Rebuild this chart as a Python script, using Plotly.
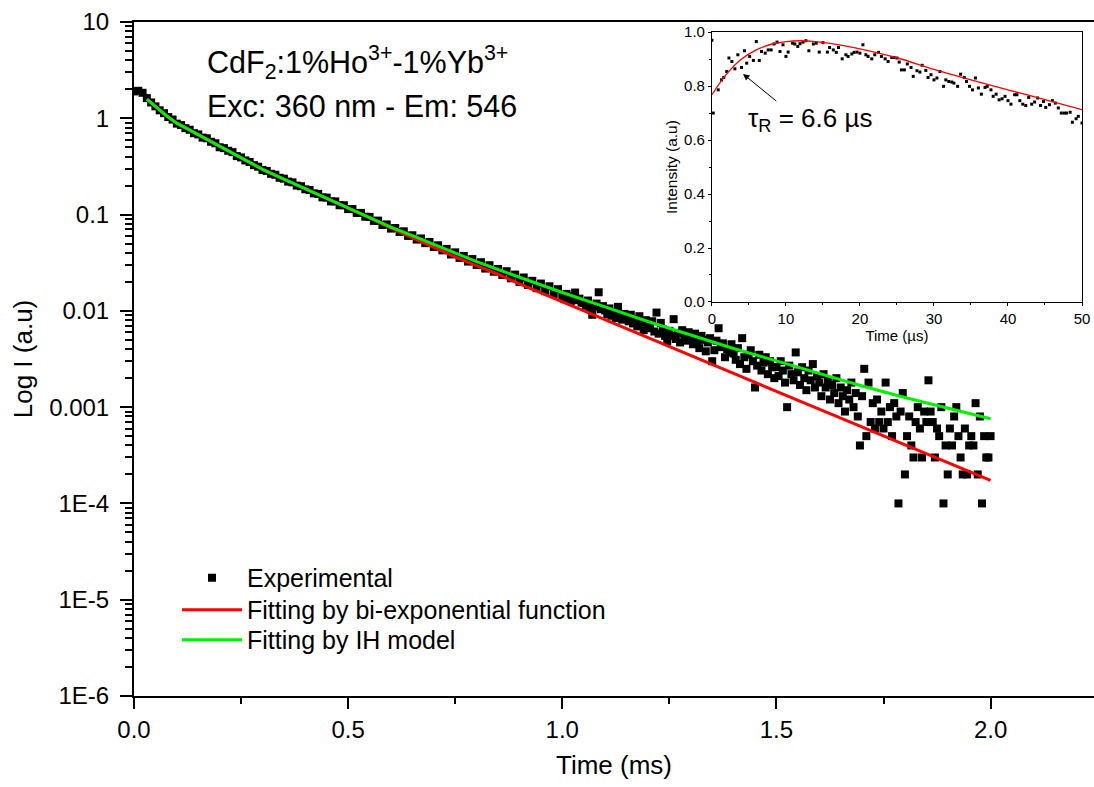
import numpy as np
import plotly.graph_objects as go

# ---------------- main decay data ----------------
time_early = np.round(np.arange(0.0, 1.0, 0.01), 3)
exp_early = [
    1.90, 1.93, 1.84, 1.62, 1.46, 1.33, 1.21, 1.13, 1.03, 0.97,
    0.88, 0.85, 0.79, 0.76, 0.70, 0.68, 0.63, 0.62, 0.57, 0.55,
    0.50, 0.49, 0.46, 0.445, 0.405, 0.392, 0.365, 0.352, 0.326, 0.314,
    0.290, 0.284, 0.265, 0.259, 0.241, 0.236, 0.220, 0.216, 0.200, 0.197,
    0.183, 0.180, 0.166, 0.164, 0.151, 0.150, 0.137, 0.137, 0.125, 0.125,
    0.114, 0.114, 0.104, 0.104, 0.0950, 0.0945, 0.0860, 0.0865, 0.0780, 0.0790,
    0.0715, 0.0725, 0.0660, 0.0670, 0.0600, 0.0610, 0.0550, 0.0565, 0.0505, 0.0520,
    0.0460, 0.0480, 0.0425, 0.0440, 0.0385, 0.0405, 0.0355, 0.0372, 0.0325, 0.0345,
    0.0300, 0.0320, 0.0275, 0.0298, 0.0255, 0.0272, 0.0236, 0.0258, 0.0218, 0.0238,
    0.0200, 0.0222, 0.0186, 0.0205, 0.0172, 0.0192, 0.0160, 0.0180, 0.0150, 0.0168,
]

time_tail = np.round(np.arange(1.0, 2.0001, 0.005), 3)
exp_tail = [
    0.0145, 0.0132, 0.0150, 0.0138, 0.0127, 0.0141, 0.0155, 0.0129, 0.0134, 0.0122,
    0.0121, 0.0113, 0.0128, 0.0107, 0.0091, 0.0110, 0.0119, 0.0156, 0.0104, 0.0112,
    0.0101, 0.0092, 0.0106, 0.0089, 0.0097, 0.0084, 0.0110, 0.0090, 0.0081, 0.0093,
    0.0086, 0.0078, 0.0091, 0.0074, 0.0082, 0.0069, 0.0088, 0.0076, 0.0063, 0.0080,
    0.0072, 0.0066, 0.0078, 0.0061, 0.0096, 0.0058, 0.0075, 0.0064, 0.0055, 0.0048,
    0.0062, 0.0055, 0.0082, 0.0051, 0.0059, 0.0047, 0.0063, 0.0056, 0.0049, 0.0060,
    0.0053, 0.0045, 0.0058, 0.0048, 0.0041, 0.0055, 0.0050, 0.0038, 0.0047, 0.0052,
    0.0030, 0.0039, 0.0049, 0.0066, 0.0042, 0.0046, 0.0033, 0.0040, 0.0037, 0.0045,
    0.0036, 0.0031, 0.0041, 0.0028, 0.0052, 0.0033, 0.0025, 0.0035, 0.0039, 0.0030,
    0.0016, 0.0027, 0.0035, 0.0024, 0.0029, 0.0033, 0.0022, 0.0030, 0.0026, 0.0020,
    0.0026, 0.0021, 0.0030, 0.0024, 0.0018, 0.0010, 0.0027, 0.0022, 0.0019, 0.0037,
    0.0023, 0.0017, 0.0026, 0.0020, 0.0015, 0.0024, 0.0019, 0.0028, 0.0016, 0.0021,
    0.0018, 0.0013, 0.0022, 0.0016, 0.0019, 0.0012, 0.0017, 0.0014, 0.0020, 0.0011,
    0.0016, 0.0013, 0.0009, 0.0015, 0.0012, 0.0018, 0.0010, 0.0014, 0.0008, 0.0004,
    0.0013, 0.0025, 0.0005, 0.0018, 0.0007, 0.0011, 0.0006, 0.0012, 0.0007, 0.0009,
    0.0006, 0.0018, 0.0007, 0.0010, 0.0005, 0.0011, 0.0008, 0.0001, 0.0009, 0.0014,
    0.0002, 0.0005, 0.0008, 0.0004, 0.0003, 0.0007, 0.0010, 0.0006, 0.0003, 0.0009,
    0.0007, 0.0019, 0.0009, 0.0007, 0.0003, 0.0006, 0.0005, 0.0010, 0.0001, 0.0004,
    0.0002, 0.0006, 0.0004, 0.0008, 0.0010, 0.0005, 0.0003, 0.0002, 0.0006, 0.0002,
    0.0004, 0.0005, 0.0004, 0.0011, 0.0002, 0.0008, 0.0001, 0.0005, 0.0003, 0.0003,
    0.0005,
]

# fit curves
fit_time = [0.03, 0.05, 0.075, 0.10, 0.125, 0.15, 0.2, 0.25, 0.3, 0.35, 0.4, 0.45,
            0.5, 0.55, 0.6, 0.65, 0.7, 0.75, 0.8, 0.85, 0.9, 0.95, 1.0, 1.1, 1.2,
            1.3, 1.4, 1.5, 1.6, 1.7, 1.8, 1.9, 2.0]
fit_biexp = [1.58, 1.32, 1.07, 0.891, 0.776, 0.676, 0.513, 0.389, 0.295, 0.234, 0.186,
             0.148, 0.117, 0.0924, 0.0724, 0.0575, 0.0457, 0.0363, 0.0295, 0.0240,
             0.0191, 0.0154, 0.0123, 0.00804, 0.00525, 0.00343, 0.00224, 0.00146,
             0.000955, 0.000624, 0.000407, 0.000266, 0.000174]
fit_ih = [1.58, 1.32, 1.07, 0.891, 0.776, 0.676, 0.513, 0.389, 0.295, 0.234, 0.186,
          0.148, 0.117, 0.0933, 0.0741, 0.0603, 0.0490, 0.0398, 0.0324, 0.0269,
          0.0224, 0.0186, 0.0155, 0.0110, 0.00776, 0.00562, 0.00407, 0.00302,
          0.00224, 0.00166, 0.00126, 0.000977, 0.000759]

y_tickvals = [10, 1, 0.1, 0.01, 0.001, 1e-4, 1e-5, 1e-6]
y_ticktext = ["10", "1", "0.1", "0.01", "0.001", "1E-4", "1E-5", "1E-6"]
x_tickvals = [0.0, 0.5, 1.0, 1.5, 2.0]
x_ticktext = ["0.0", "0.5", "1.0", "1.5", "2.0"]

# ---------------- inset data (rise) ----------------
inset_t = [0.0, 0.18, 0.85, 1.3, 1.6, 2.0, 2.3, 2.7, 3.1, 3.5, 4.0, 4.4, 4.7, 5.1, 5.6,
           6.0, 6.4, 6.7, 7.2, 7.6, 8.0, 8.4, 8.8, 9.2, 9.6, 10.0, 10.3, 10.9, 11.2,
           11.6, 11.9, 12.3, 12.7, 13.1, 13.7, 14.1, 14.5, 15.0, 15.6, 15.9, 16.4,
           16.8, 17.1, 17.6, 18.1, 18.4, 18.9, 19.2, 19.6, 20.0, 20.4, 20.8, 21.1,
           21.6, 22.0, 22.5, 22.9, 23.4, 23.8, 24.3, 24.6, 25.0, 25.3, 25.6, 26.0,
           26.4, 26.9, 27.2, 27.7, 28.1, 28.4, 28.9, 29.2, 29.6, 30.0, 30.4, 30.8,
           31.3, 31.6, 32.0, 32.4, 32.7, 33.2, 33.6, 34.1, 34.4, 34.8, 35.2, 35.6,
           36.0, 36.4, 36.9, 37.2, 37.7, 38.0, 38.4, 38.8, 39.2, 39.6, 40.0, 40.4,
           40.9, 41.2, 41.6, 42.0, 42.4, 42.8, 43.2, 43.6, 44.0, 44.4, 44.8, 45.1,
           45.6, 46.0, 46.4, 46.8, 47.2, 47.6, 47.9, 48.4, 48.7, 49.2, 49.5, 50.0]
inset_i = [0.97, 0.70, 0.786, 0.823, 0.832, 0.854, 0.904, 0.891, 0.864, 0.916, 0.869,
           0.931, 0.885, 0.910, 0.895, 0.965, 0.895, 0.928, 0.922, 0.934, 0.934,
           0.956, 0.963, 0.928, 0.953, 0.910, 0.926, 0.959, 0.956, 0.947, 0.957,
           0.963, 0.968, 0.931, 0.956, 0.959, 0.926, 0.961, 0.926, 0.943, 0.934,
           0.925, 0.943, 0.901, 0.916, 0.910, 0.919, 0.925, 0.926, 0.922, 0.953,
           0.916, 0.910, 0.901, 0.916, 0.925, 0.910, 0.901, 0.891, 0.906, 0.906,
           0.904, 0.889, 0.860, 0.860, 0.882, 0.869, 0.836, 0.857, 0.852, 0.877,
           0.858, 0.832, 0.842, 0.823, 0.830, 0.854, 0.799, 0.823, 0.817, 0.815,
           0.811, 0.799, 0.844, 0.832, 0.817, 0.799, 0.786, 0.830, 0.793, 0.770,
           0.795, 0.799, 0.786, 0.762, 0.770, 0.749, 0.753, 0.762, 0.746, 0.733,
           0.768, 0.768, 0.746, 0.733, 0.728, 0.758, 0.733, 0.741, 0.756, 0.728,
           0.743, 0.721, 0.731, 0.746, 0.737, 0.719, 0.700, 0.700, 0.700, 0.703,
           0.666, 0.679, 0.688, 0.663]
inset_fit_t = [0, 2, 4, 6, 8, 10, 12, 14, 16, 18, 20, 25, 30, 35, 40, 45, 50]
inset_fit_i = [0.768, 0.845, 0.900, 0.934, 0.955, 0.965, 0.968, 0.965, 0.958, 0.949,
               0.938, 0.905, 0.862, 0.823, 0.786, 0.750, 0.713]

FONT = "Liberation Sans, Arial, Helvetica, sans-serif"

fig = go.Figure()

fig.add_trace(go.Scatter(
    x=np.concatenate([time_early, time_tail]), y=exp_early + exp_tail,
    mode="markers", name="Experimental", legend="legend",
    marker=dict(symbol="square", size=8, color="black", line=dict(width=0)),
))
fig.add_trace(go.Scatter(
    x=fit_time, y=fit_biexp, mode="lines", name="Fitting by bi-exponential function",
    legend="legend2",
    line=dict(color="#ff0000", width=3),
))
fig.add_trace(go.Scatter(
    x=fit_time, y=fit_ih, mode="lines", name="Fitting by IH model",
    legend="legend3",
    line=dict(color="#00f000", width=3),
))

# inset traces
fig.add_trace(go.Scatter(
    x=inset_t, y=inset_i, mode="markers", showlegend=False,
    marker=dict(symbol="square", size=3, color="black", line=dict(width=0)),
    xaxis="x2", yaxis="y2",
))
fig.add_trace(go.Scatter(
    x=inset_fit_t, y=inset_fit_i, mode="lines", showlegend=False, line_shape="spline",
    line=dict(color="#ff0000", width=1.3),
    xaxis="x2", yaxis="y2",
))

minor_y = [m * 10.0 ** k for k in range(-6, 1) for m in range(2, 10)]

leg_common = dict(
    xanchor="left", yanchor="middle",
    bgcolor="rgba(0,0,0,0)", borderwidth=0,
    font=dict(size=25, family=FONT), itemwidth=60,
)

fig.update_layout(
    width=1094, height=787,
    margin=dict(l=134, r=0, t=22, b=91, autoexpand=False),
    paper_bgcolor="white", plot_bgcolor="white",
    font=dict(family=FONT, color="black", size=24),
    showlegend=True,
    legend=dict(x=0.0448, y=0.1751, **leg_common),
    legend2=dict(x=0.0448, y=0.1276, **leg_common),
    legend3=dict(x=0.0448, y=0.0831, **leg_common),
    xaxis=dict(
        domain=[0, 1], range=[0, 2.2415], automargin=False,
        tickmode="array", tickvals=x_tickvals, ticktext=x_ticktext,
        ticks="outside", ticklen=11, tickwidth=2, tickcolor="black",
        minor=dict(ticks="outside", dtick=0.25, tick0=0, ticklen=6, tickwidth=2, tickcolor="black"),
        showline=True, linewidth=2, linecolor="black", mirror=True,
        showgrid=False, zeroline=False,
        tickfont=dict(size=24, family=FONT),
        title=dict(text="Time (ms)", font=dict(size=26, family=FONT), standoff=14),
    ),
    yaxis=dict(
        type="log", range=[-6, 1], domain=[0, 1], automargin=False,
        tickmode="array", tickvals=y_tickvals, ticktext=y_ticktext,
        ticks="outside", ticklen=12, tickwidth=2, tickcolor="black",
        minor=dict(ticks="outside", tickmode="array", tickvals=minor_y,
                   ticklen=7, tickwidth=2, tickcolor="black"),
        showline=True, linewidth=2, linecolor="black", mirror=False,
        showgrid=False, zeroline=False,
        tickfont=dict(size=24, family=FONT),
        ticklabelstandoff=6,
        title=dict(text="Log I (a.u)", font=dict(size=26, family=FONT), standoff=9),
    ),
    xaxis2=dict(
        domain=[0.602, 0.9875], anchor="y2", range=[0, 50], automargin=False,
        tickmode="linear", tick0=0, dtick=10,
        ticks="outside", ticklen=3, tickwidth=1, tickcolor="black",
        minor=dict(ticks="outside", dtick=5, ticklen=2, tickwidth=1, tickcolor="black"),
        showline=True, linewidth=1, linecolor="black", mirror=True,
        showgrid=False, zeroline=False,
        tickfont=dict(size=15, family=FONT),
        title=dict(text="Time (µs)", font=dict(size=15, family=FONT), standoff=0),
    ),
    yaxis2=dict(
        domain=[0.5846, 0.985], anchor="x2", range=[0, 1.0], automargin=False,
        tickmode="array", tickvals=[0.0, 0.2, 0.4, 0.6, 0.8, 1.0],
        ticktext=["0.0", "0.2", "0.4", "0.6", "0.8", "1.0"],
        ticks="outside", ticklen=3, tickwidth=1, tickcolor="black",
        minor=dict(ticks="outside", dtick=0.1, ticklen=2, tickwidth=1, tickcolor="black"),
        showline=True, linewidth=1, linecolor="black", mirror=True,
        showgrid=False, zeroline=False,
        tickfont=dict(size=15, family=FONT),
        title=dict(text="Intensity (a.u)", font=dict(size=15.5, family=FONT), standoff=2),
    ),
)

fig.add_annotation(
    xref="paper", yref="paper", x=0.074, y=0.94, xanchor="left", yanchor="middle",
    text="CdF<sub>2</sub>:1%Ho<sup>3+</sup>-1%Yb<sup>3+</sup>", showarrow=False,
    font=dict(size=30.5, family=FONT),
)
fig.add_annotation(
    xref="paper", yref="paper", x=0.074, y=0.875, xanchor="left", yanchor="middle",
    text="Exc: 360 nm - Em: 546", showarrow=False,
    font=dict(size=30.5, family=FONT),
)
fig.add_annotation(
    xref="x2", yref="y2", x=4.2, y=0.845, ax=8.9, ay=0.74, axref="x2", ayref="y2",
    text="", showarrow=True, arrowhead=2, arrowsize=1.3, arrowwidth=1, arrowcolor="black",
)
fig.add_annotation(
    xref="x2", yref="y2", x=4.6, y=0.675, xanchor="left", yanchor="middle",
    text="τ<sub>R</sub> = 6.6 µs", showarrow=False, font=dict(size=26, family=FONT),
)

fig.write_html(
    "out.html",
    config={"displayModeBar": False},
    post_script="document.body.style.margin='0px';document.body.style.overflow='hidden';",
)
